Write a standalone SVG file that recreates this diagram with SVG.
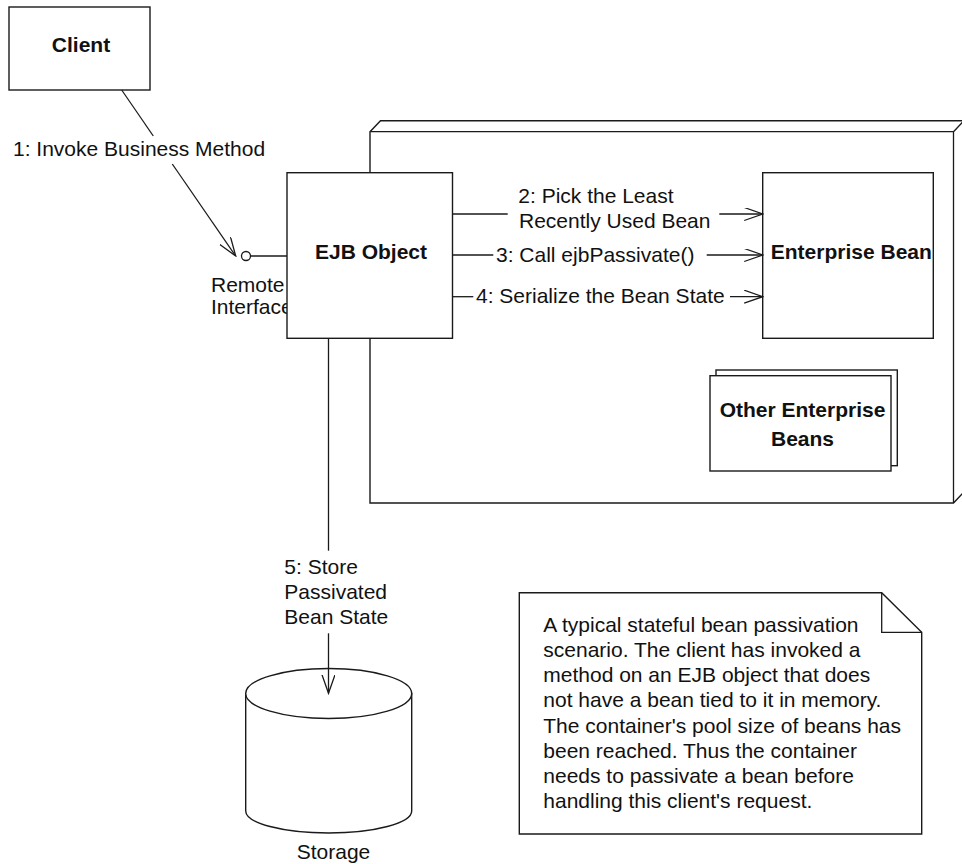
<svg xmlns="http://www.w3.org/2000/svg" width="962" height="864" viewBox="0 0 962 864">
<defs>
<style>
.box{fill:#fff;stroke:#1a1a1a;stroke-width:1.4}
.ln{fill:none;stroke:#1a1a1a;stroke-width:1.3}
.t{font-family:"Liberation Sans",Arial,Helvetica,sans-serif;font-size:21px;fill:#111}
.b{font-family:"Liberation Sans",Arial,Helvetica,sans-serif;font-size:21px;font-weight:bold;fill:#111;text-anchor:middle}
</style>
<marker id="open" markerUnits="userSpaceOnUse" markerWidth="20" markerHeight="14" viewBox="0 0 20 14" refX="18.5" refY="6.5" orient="auto">
<path d="M0,0 L18.5,6.5 L0,13" fill="none" stroke="#1a1a1a" stroke-width="1.3"/>
</marker>
</defs>
<rect width="962" height="864" fill="#fff"/>

<g id="container">
<path class="box" d="M370,131.7 L380.5,120.7 L964,120.7 L964,492 L953.5,503 L370,503 Z"/>
<path class="ln" d="M370,131.7 L953.5,131.7 L953.5,503 M953.5,131.7 L964,120.7"/>
</g>

<g id="client">
<rect class="box" x="9" y="7" width="141" height="83"/>
<text class="b" x="81" y="52">Client</text>
</g>

<g id="remote-interface">
<text class="t" x="211" y="292">Remote</text>
<text class="t" x="211" y="314">Interface</text>
<circle class="ln" cx="246" cy="256" r="4.5" fill="#fff"/>
<line class="ln" x1="250.5" y1="256" x2="287" y2="256"/>
</g>

<g id="ejb-object">
<rect class="box" x="287" y="172.7" width="165.5" height="165.6"/>
<text class="b" x="371" y="259">EJB Object</text>
</g>

<g id="enterprise-bean">
<rect class="box" x="762.7" y="172.7" width="170.6" height="165.6"/>
<text class="b" x="851.3" y="258.5">Enterprise Bean</text>
</g>

<g id="other-beans">
<rect class="box" x="716" y="370" width="181.3" height="95.7"/>
<rect class="box" x="710" y="375.7" width="181" height="95.3"/>
<text class="b" x="802.5" y="417">Other Enterprise</text>
<text class="b" x="802.5" y="446">Beans</text>
</g>

<g id="storage">
<path class="box" d="M245.7,693.5 L245.7,811 A83,22 0 0 0 411.7,811 L411.7,693.5 Z"/>
<ellipse class="box" cx="328.7" cy="693.5" rx="83" ry="25"/>
<text class="t" x="333.5" y="859" text-anchor="middle">Storage</text>
</g>

<g id="note">
<path class="box" d="M519.3,592.7 L881.7,592.7 L921.7,632.3 L921.7,834 L519.3,834 Z"/>
<path class="ln" d="M881.7,592.7 L881.7,632.3 L921.7,632.3"/>
<text class="t">
<tspan x="543.3" y="631.7">A typical stateful bean passivation</tspan>
<tspan x="543.3" y="656.9">scenario. The client has invoked a</tspan>
<tspan x="543.3" y="682.1">method on an EJB object that does</tspan>
<tspan x="543.3" y="707.4">not have a bean tied to it in memory.</tspan>
<tspan x="543.3" y="732.6">The container's pool size of beans has</tspan>
<tspan x="543.3" y="757.8">been reached. Thus the container</tspan>
<tspan x="543.3" y="783.1">needs to passivate a bean before</tspan>
<tspan x="543.3" y="808.3">handling this client's request.</tspan>
</text>
</g>

<g id="connectors">
<line class="ln" x1="121.7" y1="90" x2="153.3" y2="136"/>
<line class="ln" x1="172.3" y1="164" x2="235.7" y2="256" marker-end="url(#open)"/>
<text class="t" x="13" y="156">1: Invoke Business Method</text>

<line class="ln" x1="452.5" y1="214" x2="507.7" y2="214"/>
<line class="ln" x1="719.3" y1="214" x2="762.7" y2="214" marker-end="url(#open)"/>
<text class="t" x="518.3" y="202.7">2: Pick the Least</text>
<text class="t" x="519" y="228.3">Recently Used Bean</text>

<line class="ln" x1="452.5" y1="255" x2="493.3" y2="255"/>
<line class="ln" x1="706.7" y1="255" x2="762.7" y2="255" marker-end="url(#open)"/>
<text class="t" x="496" y="261.7">3: Call ejbPassivate()</text>

<line class="ln" x1="452.5" y1="296.7" x2="473.3" y2="296.7"/>
<line class="ln" x1="730" y1="296.7" x2="762.7" y2="296.7" marker-end="url(#open)"/>
<text class="t" x="476" y="303.3">4: Serialize the Bean State</text>

<line class="ln" x1="328.5" y1="338.3" x2="328.5" y2="550.7"/>
<line class="ln" x1="328.5" y1="633.3" x2="328.5" y2="693.3" marker-end="url(#open)"/>
<text class="t">
<tspan x="284.3" y="574">5: Store</tspan>
<tspan x="284.3" y="599">Passivated</tspan>
<tspan x="284.3" y="624">Bean State</tspan>
</text>
</g>
</svg>
